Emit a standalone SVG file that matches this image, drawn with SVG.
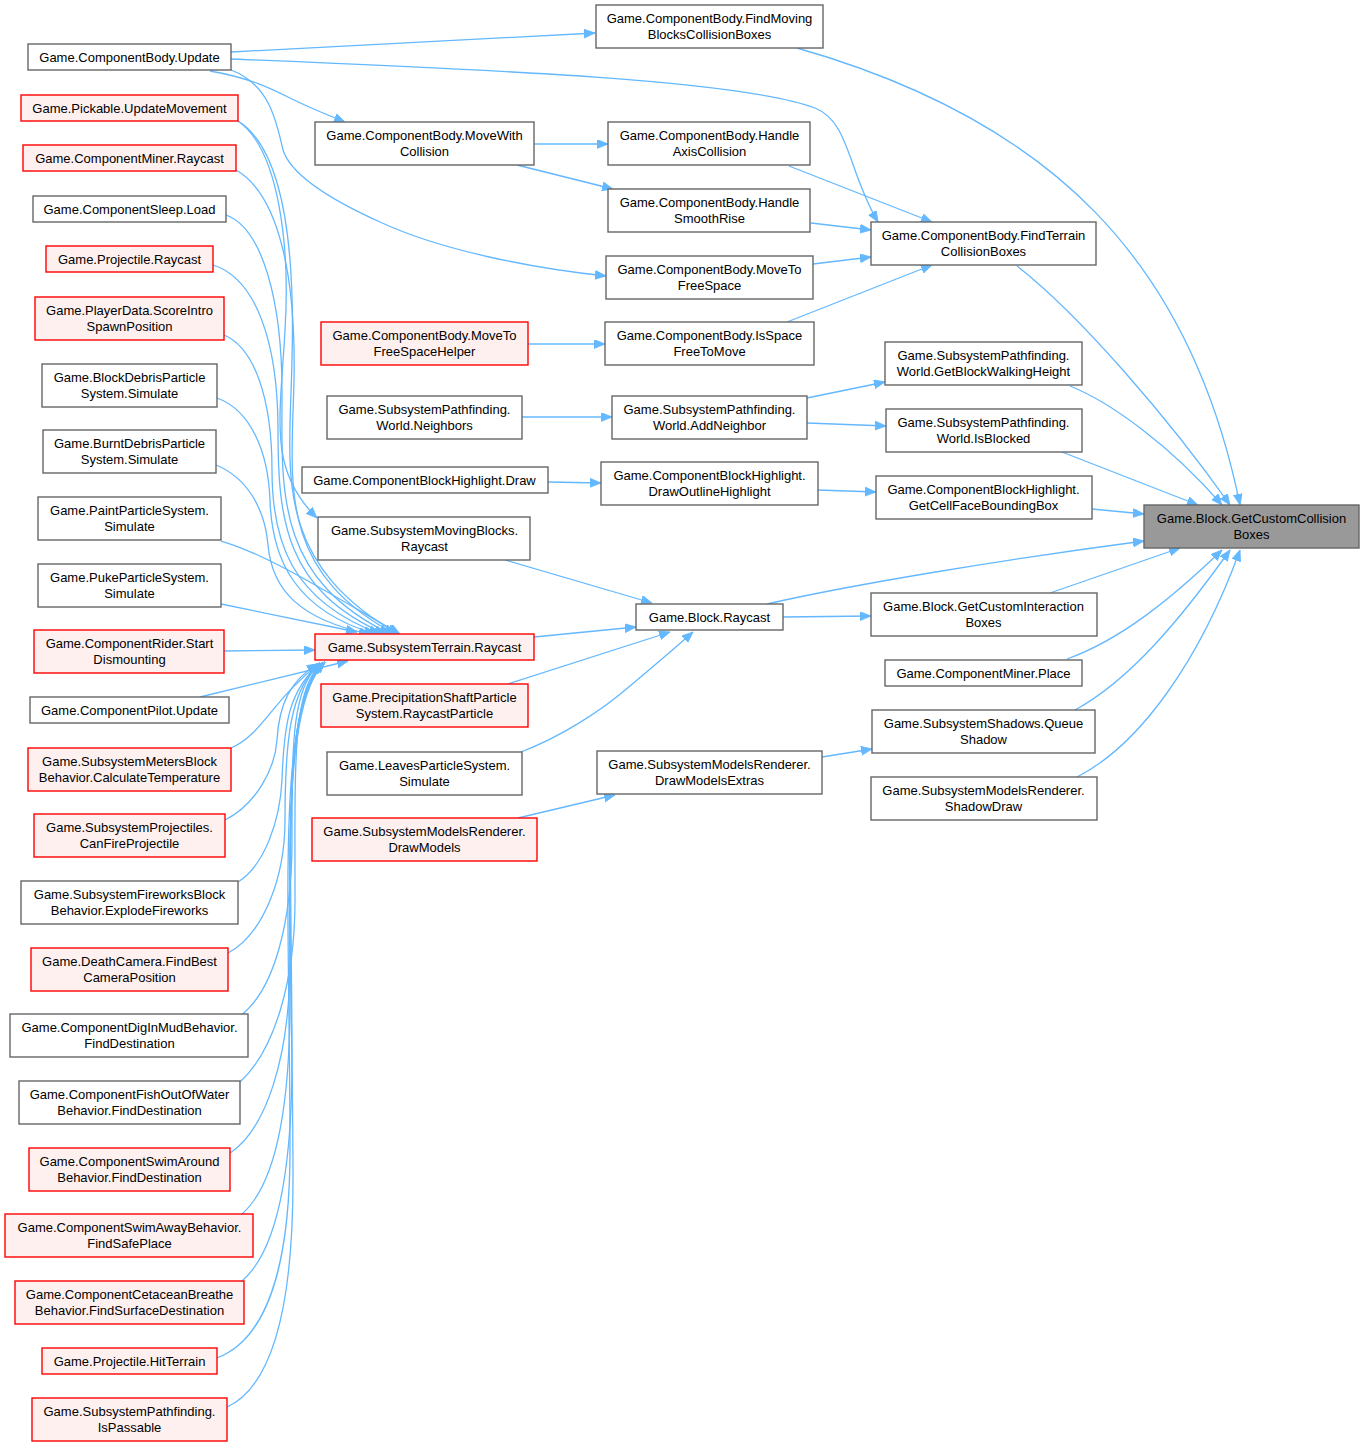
<svg xmlns="http://www.w3.org/2000/svg" width="1364" height="1447" viewBox="0 0 1364 1447">
<style>
.n rect{fill:#ffffff;stroke:#666666;stroke-width:1.4}
.r rect{fill:#fff0f0;stroke:#ff0000;stroke-width:1.4}
.t rect{fill:#999999;stroke:#666666;stroke-width:1.4}
text{font-family:"Liberation Sans",Arial,sans-serif;font-size:13px;text-anchor:middle;fill:#000000}
#edges path{fill:none;stroke:#63b8ff;stroke-width:1.3;marker-end:url(#a)}
</style>
<defs>
<marker id="a" markerWidth="13" markerHeight="10" refX="11" refY="4.5" orient="auto" markerUnits="userSpaceOnUse">
<path d="M0,0 L11,4.5 L0,9 z" fill="#63b8ff" stroke="#63b8ff" stroke-width="0.8"/>
</marker>
</defs>
<rect width="1364" height="1447" fill="#ffffff"/>
<g id="edges">
<path d="M231,52 L595,33"/>
<path d="M231,59 C500,70 740,80 815,108 C850,122 848,172 878,222"/>
<path d="M210,71 C250,78 270,88 290,98 C310,108 325,114 345,122"/>
<path d="M231,70 C268,84 276,118 283,150 C290,172 320,195 380,222 C440,250 530,268 606,276"/>
<path d="M534,144 L608,144"/>
<path d="M517,165 L613,189"/>
<path d="M789,166 L932,222"/>
<path d="M811,223 L871,230"/>
<path d="M813,264 L871,257"/>
<path d="M787,322 L932,265"/>
<path d="M528,344 L605,344"/>
<path d="M797,48 C1050,120 1190,260 1240,505"/>
<path d="M1017,266 C1080,315 1170,420 1230,505"/>
<path d="M1070,386 C1110,402 1170,445 1222,505"/>
<path d="M1062,452 L1198,505"/>
<path d="M1092,509 L1144,514"/>
<path d="M522,417 L612,417"/>
<path d="M807,398 L885,382"/>
<path d="M807,423 L886,426"/>
<path d="M548,482 L601,483"/>
<path d="M818,490 L876,492"/>
<path d="M505,560 L652,603"/>
<path d="M534,637 L636,627"/>
<path d="M508,684 L670,632"/>
<path d="M521,752 C560,737 600,712 630,686 C655,665 675,648 693,632"/>
<path d="M767,604 C850,585 1000,560 1144,541"/>
<path d="M783,617 L871,616"/>
<path d="M1050,593 L1180,548"/>
<path d="M1067,659 C1120,640 1170,600 1222,550"/>
<path d="M1075,710 C1130,680 1180,620 1230,550"/>
<path d="M1077,777 C1140,745 1200,660 1240,550"/>
<path d="M822,757 L872,749"/>
<path d="M518,818 L615,795"/>
<path d="M238,121 C280,150 290,250 285,330 C280,420 268,470 317,518"/>
<path d="M238,121 C285,150 295,250 292,360 C290,470 270,560 398,634"/>
<path d="M236,170 C280,195 296,280 294,380 C292,480 275,570 395,634"/>
<path d="M226,215 C262,228 283,300 282,400 C281,500 280,580 390,634"/>
<path d="M213,265 C255,278 278,340 278,430 C278,520 285,590 385,634"/>
<path d="M224,335 C255,348 272,400 272,470 C272,540 290,600 380,634"/>
<path d="M217,398 C250,410 268,450 270,500 C272,560 295,610 375,634"/>
<path d="M216,465 C248,478 265,510 268,545 C272,590 300,620 370,634"/>
<path d="M221,541 C270,555 340,600 400,634"/>
<path d="M221,604 L357,632"/>
<path d="M224,651 L315,650"/>
<path d="M200,697 L348,661"/>
<path d="M231,748 C262,735 272,700 320,663"/>
<path d="M225,820 C255,805 275,770 277,740 C279,705 290,680 318,664"/>
<path d="M238,882 C265,865 280,820 282,780 C284,720 290,690 320,663"/>
<path d="M228,953 C262,935 285,880 285,820 C285,740 290,690 320,663"/>
<path d="M240,1016 C275,990 292,920 292,840 C292,740 292,690 320,663"/>
<path d="M240,1082 C275,1050 295,980 295,900 C295,760 292,690 322,663"/>
<path d="M230,1153 C265,1130 290,1060 290,960 C290,800 288,700 322,663"/>
<path d="M242,1214 C275,1185 290,1110 290,1000 C290,820 285,700 325,662"/>
<path d="M242,1281 C278,1250 292,1170 292,1060 C292,850 280,700 325,662"/>
<path d="M217,1358 C265,1340 290,1270 290,1150 C290,900 275,710 325,662"/>
<path d="M227,1407 C275,1385 293,1300 293,1180 C293,920 275,710 325,662"/>
</g>
<g id="L1" class="n"><rect x="28" y="44" width="203" height="26"/><text x="129.5" y="62">Game.ComponentBody.Update</text></g>
<g id="L2" class="r"><rect x="21" y="95" width="217" height="26"/><text x="129.5" y="113">Game.Pickable.UpdateMovement</text></g>
<g id="L3" class="r"><rect x="23" y="145" width="213" height="26"/><text x="129.5" y="163">Game.ComponentMiner.Raycast</text></g>
<g id="L4" class="n"><rect x="33" y="196" width="193" height="26"/><text x="129.5" y="214">Game.ComponentSleep.Load</text></g>
<g id="L5" class="r"><rect x="46" y="246" width="167" height="26"/><text x="129.5" y="264">Game.Projectile.Raycast</text></g>
<g id="L6" class="r"><rect x="35" y="297" width="189" height="43"/><text x="129.5" y="315">Game.PlayerData.ScoreIntro</text><text x="129.5" y="331">SpawnPosition</text></g>
<g id="L7" class="n"><rect x="42" y="364" width="175" height="43"/><text x="129.5" y="382">Game.BlockDebrisParticle</text><text x="129.5" y="398">System.Simulate</text></g>
<g id="L8" class="n"><rect x="43" y="430" width="173" height="43"/><text x="129.5" y="448">Game.BurntDebrisParticle</text><text x="129.5" y="464">System.Simulate</text></g>
<g id="L9" class="n"><rect x="38" y="497" width="183" height="43"/><text x="129.5" y="515">Game.PaintParticleSystem.</text><text x="129.5" y="531">Simulate</text></g>
<g id="L10" class="n"><rect x="38" y="564" width="183" height="43"/><text x="129.5" y="582">Game.PukeParticleSystem.</text><text x="129.5" y="598">Simulate</text></g>
<g id="L11" class="r"><rect x="34" y="630" width="190" height="43"/><text x="129.5" y="648">Game.ComponentRider.Start</text><text x="129.5" y="664">Dismounting</text></g>
<g id="L12" class="n"><rect x="30" y="697" width="199" height="26"/><text x="129.5" y="715">Game.ComponentPilot.Update</text></g>
<g id="L13" class="r"><rect x="28" y="748" width="203" height="43"/><text x="129.5" y="766">Game.SubsystemMetersBlock</text><text x="129.5" y="782">Behavior.CalculateTemperature</text></g>
<g id="L14" class="r"><rect x="34" y="814" width="191" height="43"/><text x="129.5" y="832">Game.SubsystemProjectiles.</text><text x="129.5" y="848">CanFireProjectile</text></g>
<g id="L15" class="n"><rect x="21" y="881" width="217" height="43"/><text x="129.5" y="899">Game.SubsystemFireworksBlock</text><text x="129.5" y="915">Behavior.ExplodeFireworks</text></g>
<g id="L16" class="r"><rect x="31" y="948" width="197" height="43"/><text x="129.5" y="966">Game.DeathCamera.FindBest</text><text x="129.5" y="982">CameraPosition</text></g>
<g id="L17" class="n"><rect x="10" y="1014" width="238" height="43"/><text x="129.5" y="1032">Game.ComponentDigInMudBehavior.</text><text x="129.5" y="1048">FindDestination</text></g>
<g id="L18" class="n"><rect x="19" y="1081" width="221" height="43"/><text x="129.5" y="1099">Game.ComponentFishOutOfWater</text><text x="129.5" y="1115">Behavior.FindDestination</text></g>
<g id="L19" class="r"><rect x="29" y="1148" width="201" height="43"/><text x="129.5" y="1166">Game.ComponentSwimAround</text><text x="129.5" y="1182">Behavior.FindDestination</text></g>
<g id="L20" class="r"><rect x="5" y="1214" width="248" height="43"/><text x="129.5" y="1232">Game.ComponentSwimAwayBehavior.</text><text x="129.5" y="1248">FindSafePlace</text></g>
<g id="L21" class="r"><rect x="15" y="1281" width="229" height="43"/><text x="129.5" y="1299">Game.ComponentCetaceanBreathe</text><text x="129.5" y="1315">Behavior.FindSurfaceDestination</text></g>
<g id="L22" class="r"><rect x="42" y="1348" width="175" height="26"/><text x="129.5" y="1366">Game.Projectile.HitTerrain</text></g>
<g id="L23" class="r"><rect x="32" y="1398" width="195" height="43"/><text x="129.5" y="1416">Game.SubsystemPathfinding.</text><text x="129.5" y="1432">IsPassable</text></g>
<g id="M1" class="n"><rect x="315" y="122" width="219" height="43"/><text x="424.5" y="140">Game.ComponentBody.MoveWith</text><text x="424.5" y="156">Collision</text></g>
<g id="M2" class="r"><rect x="321" y="322" width="207" height="43"/><text x="424.5" y="340">Game.ComponentBody.MoveTo</text><text x="424.5" y="356">FreeSpaceHelper</text></g>
<g id="M3" class="n"><rect x="327" y="396" width="195" height="43"/><text x="424.5" y="414">Game.SubsystemPathfinding.</text><text x="424.5" y="430">World.Neighbors</text></g>
<g id="M4" class="n"><rect x="302" y="467" width="246" height="26"/><text x="424.5" y="485">Game.ComponentBlockHighlight.Draw</text></g>
<g id="M5" class="n"><rect x="318" y="517" width="212" height="43"/><text x="424.5" y="535">Game.SubsystemMovingBlocks.</text><text x="424.5" y="551">Raycast</text></g>
<g id="M6" class="r"><rect x="315" y="634" width="219" height="26"/><text x="424.5" y="652">Game.SubsystemTerrain.Raycast</text></g>
<g id="M7" class="r"><rect x="321" y="684" width="207" height="43"/><text x="424.5" y="702">Game.PrecipitationShaftParticle</text><text x="424.5" y="718">System.RaycastParticle</text></g>
<g id="M8" class="n"><rect x="327" y="752" width="195" height="43"/><text x="424.5" y="770">Game.LeavesParticleSystem.</text><text x="424.5" y="786">Simulate</text></g>
<g id="M9" class="r"><rect x="312" y="818" width="225" height="43"/><text x="424.5" y="836">Game.SubsystemModelsRenderer.</text><text x="424.5" y="852">DrawModels</text></g>
<g id="C1" class="n"><rect x="596" y="5" width="227" height="43"/><text x="709.5" y="23">Game.ComponentBody.FindMoving</text><text x="709.5" y="39">BlocksCollisionBoxes</text></g>
<g id="C2" class="n"><rect x="608" y="122" width="202" height="43"/><text x="709.5" y="140">Game.ComponentBody.Handle</text><text x="709.5" y="156">AxisCollision</text></g>
<g id="C3" class="n"><rect x="608" y="189" width="202" height="43"/><text x="709.5" y="207">Game.ComponentBody.Handle</text><text x="709.5" y="223">SmoothRise</text></g>
<g id="C4" class="n"><rect x="606" y="256" width="207" height="43"/><text x="709.5" y="274">Game.ComponentBody.MoveTo</text><text x="709.5" y="290">FreeSpace</text></g>
<g id="C5" class="n"><rect x="605" y="322" width="209" height="43"/><text x="709.5" y="340">Game.ComponentBody.IsSpace</text><text x="709.5" y="356">FreeToMove</text></g>
<g id="C6" class="n"><rect x="612" y="396" width="195" height="43"/><text x="709.5" y="414">Game.SubsystemPathfinding.</text><text x="709.5" y="430">World.AddNeighbor</text></g>
<g id="C7" class="n"><rect x="601" y="462" width="217" height="43"/><text x="709.5" y="480">Game.ComponentBlockHighlight.</text><text x="709.5" y="496">DrawOutlineHighlight</text></g>
<g id="C8" class="n"><rect x="636" y="604" width="147" height="26"/><text x="709.5" y="622">Game.Block.Raycast</text></g>
<g id="C9" class="n"><rect x="597" y="751" width="225" height="43"/><text x="709.5" y="769">Game.SubsystemModelsRenderer.</text><text x="709.5" y="785">DrawModelsExtras</text></g>
<g id="D1" class="n"><rect x="871" y="222" width="225" height="43"/><text x="983.5" y="240">Game.ComponentBody.FindTerrain</text><text x="983.5" y="256">CollisionBoxes</text></g>
<g id="D2" class="n"><rect x="885" y="342" width="197" height="43"/><text x="983.5" y="360">Game.SubsystemPathfinding.</text><text x="983.5" y="376">World.GetBlockWalkingHeight</text></g>
<g id="D3" class="n"><rect x="886" y="409" width="196" height="43"/><text x="983.5" y="427">Game.SubsystemPathfinding.</text><text x="983.5" y="443">World.IsBlocked</text></g>
<g id="D4" class="n"><rect x="876" y="476" width="216" height="43"/><text x="983.5" y="494">Game.ComponentBlockHighlight.</text><text x="983.5" y="510">GetCellFaceBoundingBox</text></g>
<g id="D5" class="n"><rect x="871" y="593" width="226" height="43"/><text x="983.5" y="611">Game.Block.GetCustomInteraction</text><text x="983.5" y="627">Boxes</text></g>
<g id="D6" class="n"><rect x="885" y="660" width="197" height="26"/><text x="983.5" y="678">Game.ComponentMiner.Place</text></g>
<g id="D7" class="n"><rect x="872" y="710" width="223" height="43"/><text x="983.5" y="728">Game.SubsystemShadows.Queue</text><text x="983.5" y="744">Shadow</text></g>
<g id="D8" class="n"><rect x="871" y="777" width="226" height="43"/><text x="983.5" y="795">Game.SubsystemModelsRenderer.</text><text x="983.5" y="811">ShadowDraw</text></g>
<g id="T" class="t"><rect x="1144" y="505" width="215" height="43"/><text x="1251.5" y="523">Game.Block.GetCustomCollision</text><text x="1251.5" y="539">Boxes</text></g>
</svg>
